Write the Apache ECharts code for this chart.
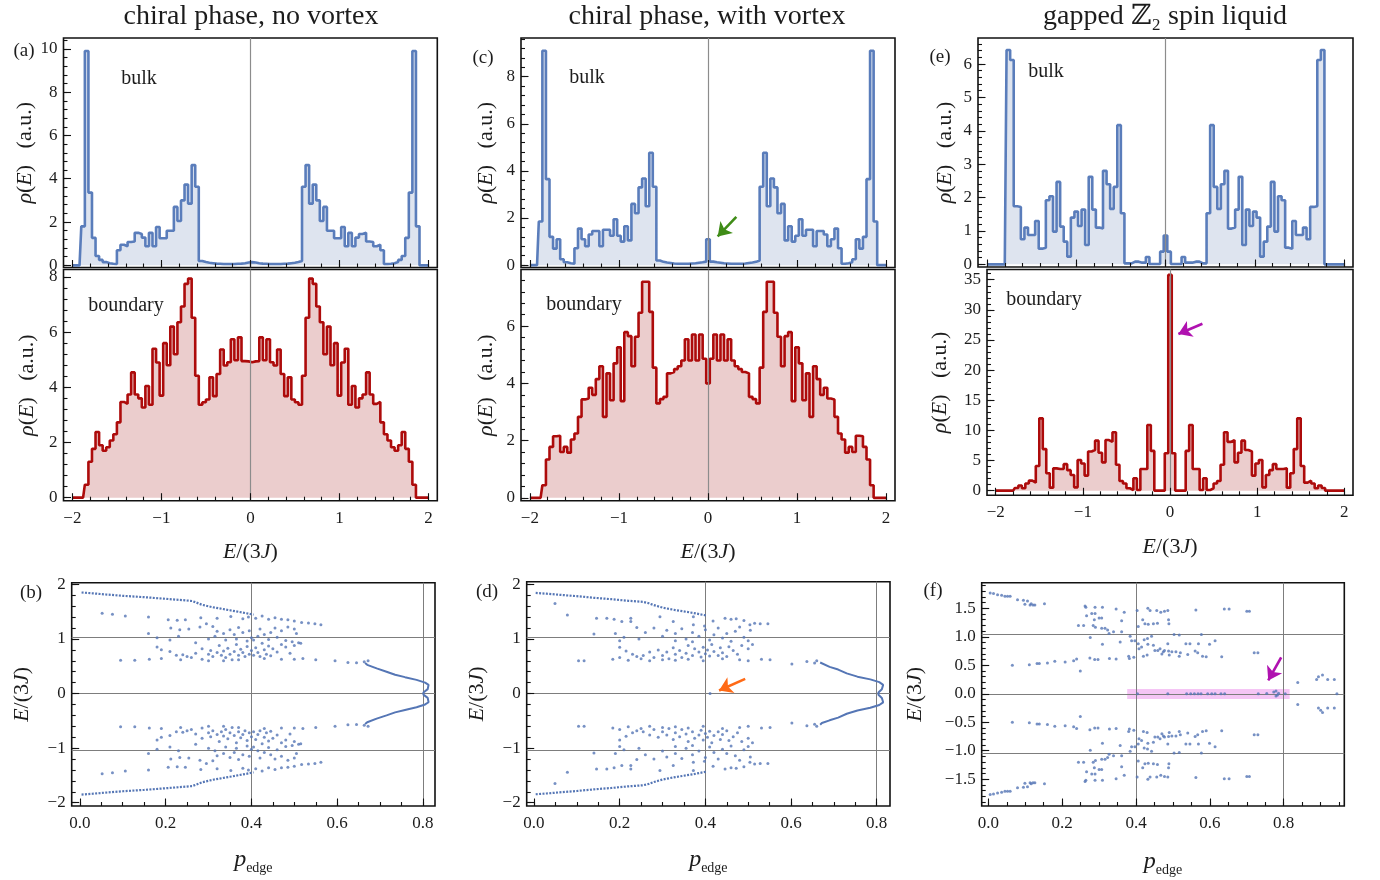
<!DOCTYPE html>
<html>
<head>
<meta charset="utf-8">
<script src="https://cdn.jsdelivr.net/npm/echarts@6/dist/echarts.min.js"></script>
<style>
html,body{margin:0;padding:0;background:#fff}
#chart{width:1380px;height:880px}
</style>
</head>
<body>
<div id="chart"></div>
<script>
// ---------------- histogram data: density of states rho(E), bins of width 0.04 centred from -2 to 2 ----------------
const binStart = -2.0, binWidth = 0.04;

const bulkNoVortex = [0,0,0,1.8,9.9,3.36,1.27,0.43,0.25,0.15,0.1,0.07,0.06,0.7,0.95,0.88,1.08,1.1,1.5,1.45,1.28,0.88,1.5,0.88,1.77,1.25,1.25,1.6,1.6,2.7,2.05,3.0,3.73,2.85,4.63,3.63,0.2,0.15,0.12,0.1,0.08,0.07,0.06,0.06,0.06,0.06,0.07,0.08,0.1,0.13,
  0.15,
  0.13,0.1,0.08,0.07,0.06,0.06,0.06,0.06,0.07,0.08,0.1,0.12,0.15,0.2,3.63,4.63,2.85,3.73,3.0,2.05,2.7,1.6,1.6,1.25,1.25,1.77,0.88,1.5,0.88,1.28,1.45,1.5,1.1,1.08,0.88,0.95,0.7,0.06,0.07,0.1,0.15,0.25,0.43,1.27,3.36,9.9,1.8,0,0,0];

const edgeNoVortex = [0,0,0,0,0.47,1.3,1.77,2.38,1.9,1.7,1.83,2.07,2.3,2.73,3.47,3.4,3.74,4.54,3.74,3.6,3.27,4.05,3.37,5.4,4.9,3.7,5.6,4.8,6.2,5.2,6.36,6.93,7.75,7.94,6.52,4.42,3.37,3.46,3.56,4.36,3.68,4.48,5.37,4.79,4.91,5.74,4.98,5.81,4.95,4.94,
  4.91,
  4.94,4.95,5.81,4.98,5.74,4.91,4.79,5.37,4.48,3.68,4.36,3.56,3.46,3.37,4.42,6.52,7.94,7.75,6.93,6.36,5.2,6.2,4.8,5.6,3.7,4.9,5.4,3.37,4.05,3.27,3.6,3.74,4.54,3.74,3.4,3.47,2.73,2.3,2.07,1.83,1.7,1.9,2.38,1.77,1.3,0.47,0,0,0,0];

const bulkVortex = [0,0,0,1.85,9.1,3.65,1.2,0.7,1.1,0.25,0.12,0.08,0.06,0.72,1.55,1.1,0.8,1.3,1.45,1.45,0.8,1.5,1.5,1.25,1.95,1.25,1.0,1.65,1.05,2.6,2.2,3.3,3.68,2.5,4.77,3.33,0.2,0.14,0.11,0.09,0.07,0.06,0.06,0.06,0.06,0.07,0.08,0.1,0.12,0.15,
  1.1,
  0.15,0.12,0.1,0.08,0.07,0.06,0.06,0.06,0.06,0.07,0.09,0.11,0.14,0.2,3.33,4.77,2.5,3.68,3.3,2.2,2.6,1.05,1.65,1.0,1.25,1.95,1.25,1.5,1.5,0.8,1.45,1.45,1.3,0.8,1.1,1.55,0.72,0.06,0.08,0.12,0.25,1.1,0.7,1.2,3.65,9.1,1.85,0,0,0];

const edgeVortex = [0,0,0,0,0.44,1.34,1.78,2.15,2.17,1.6,1.78,1.58,2.04,2.25,2.83,3.44,3.47,3.85,3.6,4.15,4.6,2.83,4.35,3.41,4.7,5.26,3.38,5.79,5.65,4.6,5.63,6.47,7.55,7.55,6.5,4.55,3.3,3.45,3.53,4.35,4.4,4.5,4.6,4.8,5.54,4.8,5.71,4.8,5.71,4.86,
  4.0,
  4.86,5.71,4.8,5.71,4.8,5.54,4.8,4.6,4.5,4.4,4.35,3.53,3.45,3.3,4.55,6.5,7.55,7.55,6.47,5.63,4.6,5.65,5.79,3.38,5.26,4.7,3.41,4.35,2.83,4.6,4.15,3.6,3.85,3.47,3.44,2.83,2.25,2.04,1.58,1.78,1.6,2.17,2.15,1.78,1.34,0.44,0,0,0,0];

const bulkZ2 = [0,0,0,0,0,0,6.42,6.12,1.74,1.72,0.75,1.1,0.88,0.88,1.3,0.47,0.5,1.92,2.04,0.98,2.47,1.13,0.68,0.23,1.4,1.58,1.15,1.64,0.58,2.62,1.64,1.1,1.07,2.8,2.4,1.66,2.32,4.17,1.53,0.03,0.03,0.08,0.08,0.05,0.05,0.22,0.01,0.01,0.01,0.38,
  0.86,
  0.38,0.01,0.01,0.01,0.22,0.05,0.05,0.08,0.08,0.03,0.03,1.53,4.17,2.32,1.66,2.4,2.8,1.07,1.1,1.64,2.62,0.58,1.64,1.15,1.58,1.4,0.23,0.68,1.13,2.47,0.98,2.04,1.92,0.5,0.47,1.3,0.88,0.88,1.1,0.75,1.72,1.74,6.12,6.42,0,0,0,0,0,0];

const edgeZ2 = [0,0,0,0,0,0,0.45,0.85,0.4,1.2,1.66,1.33,4.1,12.0,6.9,2.9,0.5,3.7,3.6,3.6,4.4,3.4,2.6,0.55,5.1,4.5,2.5,6.5,6.75,8.3,6.3,4.7,8.4,8.1,9.7,4.3,1.6,1.2,0.4,0.1,2.05,0.1,3.6,3.6,10.9,6.6,0,0,0,6.2,
  35.8,
  6.2,0,0,0,6.6,10.9,3.6,3.6,0.1,2.05,0.1,0.4,1.2,1.6,4.3,9.7,8.1,8.4,4.7,6.3,8.3,6.75,6.5,2.5,4.5,5.1,0.55,2.6,3.4,4.4,3.6,3.6,3.7,0.5,2.9,6.9,12.0,4.1,1.33,1.66,1.2,0.4,0.85,0.45,0,0,0,0,0,0];

// ---------------- eigenstates: [p_edge, E/(3J)] ----------------
const bEdgeUpper = [[0.004,1.85],[0.03,1.835],[0.06,1.815],[0.1,1.79],[0.15,1.765],[0.2,1.735],[0.24,1.71],[0.262,1.695],[0.272,1.665],[0.285,1.625],[0.31,1.58],[0.35,1.525],[0.385,1.475],[0.405,1.445]];
const bEdgeLower = [[0.004,-1.85],[0.03,-1.835],[0.06,-1.815],[0.1,-1.79],[0.15,-1.765],[0.2,-1.735],[0.24,-1.71],[0.262,-1.695],[0.272,-1.665],[0.285,-1.625],[0.31,-1.58],[0.35,-1.525],[0.385,-1.475],[0.405,-1.445]];
const bEdgeMode = [[0.665,0.56],[0.67,0.525],[0.692,0.46],[0.715,0.4],[0.735,0.345],[0.758,0.3],[0.785,0.25],[0.805,0.2],[0.813,0.16],[0.811,0.08],[0.801,0.02],[0.801,-0.02],[0.811,-0.08],[0.813,-0.16],[0.805,-0.2],[0.785,-0.25],[0.758,-0.3],[0.735,-0.345],[0.715,-0.4],[0.692,-0.46],[0.67,-0.525],[0.665,-0.56]];
const bUpper = [[0.052,1.47],[0.076,1.45],[0.106,1.42],[0.16,1.4],[0.206,1.35],[0.227,1.34],[0.246,1.35],[0.282,1.39],[0.32,1.38],[0.352,1.41],[0.38,1.37],[0.393,1.4],[0.41,1.38],[0.425,1.42],[0.44,1.36],[0.455,1.39],[0.47,1.36],[0.485,1.35],[0.5,1.33],[0.517,1.3],[0.533,1.29],[0.548,1.28],[0.562,1.26],
  [0.16,1.1],[0.18,1.02],[0.212,1.2],[0.233,1.17],[0.254,1.18],[0.23,1.05],[0.21,0.98],[0.28,1.22],[0.295,1.28],[0.31,1.23],[0.32,1.14],[0.315,1.05],[0.335,1.1],[0.35,1.17],[0.36,1.08],[0.37,1.21],[0.38,1.12],[0.395,1.15],[0.4,1.02],[0.405,0.98],[0.415,1.05],[0.42,1.18],[0.43,1.08],[0.44,0.99],[0.445,1.12],[0.455,1.2],[0.46,1.03],[0.47,1.15],[0.48,0.97],[0.485,1.22],[0.5,1.18],[0.505,1.1],[0.495,0.95],[0.51,0.93],[0.39,0.96],[0.365,1.0],[0.34,0.98],[0.3,1.0],[0.27,0.93],
  [0.18,0.85],[0.19,0.8],[0.21,0.77],[0.225,0.7],[0.24,0.71],[0.25,0.68],[0.27,0.74],[0.285,0.82],[0.3,0.72],[0.305,0.79],[0.31,0.68],[0.32,0.75],[0.325,0.88],[0.33,0.7],[0.335,0.78],[0.34,0.66],[0.345,0.83],[0.35,0.72],[0.355,0.62],[0.36,0.77],[0.365,0.9],[0.37,0.7],[0.375,0.81],[0.38,0.75],[0.385,0.68],[0.39,0.86],[0.395,0.72],[0.4,0.79],[0.405,0.7],[0.41,0.84],[0.415,0.75],[0.42,0.68],[0.425,0.92],[0.43,0.8],[0.435,0.72],[0.44,0.87],[0.445,0.69],[0.45,0.82],[0.46,0.76],[0.47,0.9],[0.48,0.85],[0.49,0.74],[0.5,0.88],[0.515,0.92],
  [0.095,0.61],[0.128,0.61],[0.162,0.63],[0.19,0.64],[0.235,0.62],[0.26,0.66],[0.285,0.63],[0.3,0.6],[0.335,0.6],[0.37,0.62],[0.43,0.64],[0.47,0.63],[0.5,0.63],[0.52,0.64],[0.55,0.62],[0.595,0.6],[0.625,0.57],[0.645,0.565],[0.663,0.58],[0.672,0.6]];
const bLower = [[0.052,-1.47],[0.076,-1.45],[0.106,-1.42],[0.16,-1.4],[0.206,-1.35],[0.227,-1.34],[0.246,-1.35],[0.282,-1.39],[0.32,-1.38],[0.352,-1.41],[0.38,-1.37],[0.393,-1.4],[0.41,-1.38],[0.425,-1.42],[0.44,-1.36],[0.455,-1.39],[0.47,-1.36],[0.485,-1.35],[0.5,-1.33],[0.517,-1.3],[0.533,-1.29],[0.548,-1.28],[0.562,-1.26],
  [0.16,-1.1],[0.18,-1.02],[0.212,-1.2],[0.233,-1.17],[0.254,-1.18],[0.23,-1.05],[0.21,-0.98],[0.28,-1.22],[0.295,-1.28],[0.31,-1.23],[0.32,-1.14],[0.315,-1.05],[0.335,-1.1],[0.35,-1.17],[0.36,-1.08],[0.37,-1.21],[0.38,-1.12],[0.395,-1.15],[0.4,-1.02],[0.405,-0.98],[0.415,-1.05],[0.42,-1.18],[0.43,-1.08],[0.44,-0.99],[0.445,-1.12],[0.455,-1.2],[0.46,-1.03],[0.47,-1.15],[0.48,-0.97],[0.485,-1.22],[0.5,-1.18],[0.505,-1.1],[0.495,-0.95],[0.51,-0.93],[0.39,-0.96],[0.365,-1.0],[0.34,-0.98],[0.3,-1.0],[0.27,-0.93],
  [0.18,-0.85],[0.19,-0.8],[0.21,-0.77],[0.225,-0.7],[0.24,-0.71],[0.25,-0.68],[0.27,-0.74],[0.285,-0.82],[0.3,-0.72],[0.305,-0.79],[0.31,-0.68],[0.32,-0.75],[0.325,-0.88],[0.33,-0.7],[0.335,-0.78],[0.34,-0.66],[0.345,-0.83],[0.35,-0.72],[0.355,-0.62],[0.36,-0.77],[0.365,-0.9],[0.37,-0.7],[0.375,-0.81],[0.38,-0.75],[0.385,-0.68],[0.39,-0.86],[0.395,-0.72],[0.4,-0.79],[0.405,-0.7],[0.41,-0.84],[0.415,-0.75],[0.42,-0.68],[0.425,-0.92],[0.43,-0.8],[0.435,-0.72],[0.44,-0.87],[0.445,-0.69],[0.45,-0.82],[0.46,-0.76],[0.47,-0.9],[0.48,-0.85],[0.49,-0.74],[0.5,-0.88],[0.515,-0.92],
  [0.095,-0.61],[0.128,-0.61],[0.162,-0.63],[0.19,-0.64],[0.235,-0.62],[0.26,-0.66],[0.285,-0.63],[0.3,-0.6],[0.335,-0.6],[0.37,-0.62],[0.43,-0.64],[0.47,-0.63],[0.5,-0.63],[0.52,-0.64],[0.55,-0.62],[0.595,-0.6],[0.625,-0.57],[0.645,-0.565],[0.663,-0.58],[0.672,-0.6]];

const dEdgeUpper = [[0.004,1.845],[0.03,1.83],[0.06,1.81],[0.1,1.785],[0.14,1.755],[0.18,1.73],[0.22,1.7],[0.255,1.68],[0.268,1.655],[0.28,1.62],[0.3,1.575],[0.33,1.53],[0.37,1.48],[0.403,1.43]];
const dEdgeLower = [[0.004,-1.845],[0.03,-1.83],[0.06,-1.81],[0.1,-1.785],[0.14,-1.755],[0.18,-1.73],[0.22,-1.7],[0.255,-1.68],[0.268,-1.655],[0.28,-1.62],[0.3,-1.575],[0.33,-1.53],[0.37,-1.48],[0.403,-1.43]];
const dEdgeMode = [[0.668,0.57],[0.672,0.54],[0.69,0.49],[0.71,0.44],[0.73,0.37],[0.755,0.31],[0.785,0.26],[0.806,0.21],[0.815,0.16],[0.812,0.08],[0.804,0.02],[0.804,-0.02],[0.812,-0.08],[0.815,-0.16],[0.806,-0.21],[0.785,-0.26],[0.755,-0.31],[0.73,-0.37],[0.71,-0.44],[0.69,-0.49],[0.672,-0.54],[0.668,-0.57]];
const dUpper = [[0.049,1.65],[0.078,1.44],[0.146,1.38],[0.17,1.38],[0.187,1.36],[0.205,1.32],[0.226,1.38],[0.24,1.21],[0.226,1.32],[0.294,1.41],[0.325,1.32],[0.372,1.26],[0.372,1.41],[0.398,1.24],[0.418,1.33],[0.446,1.38],[0.46,1.36],[0.472,1.37],[0.49,1.34],[0.504,1.26],[0.515,1.29],[0.528,1.28],[0.546,1.28],
  [0.14,1.09],[0.19,1.1],[0.2,0.97],[0.21,1.03],[0.245,1.0],[0.26,1.12],[0.28,1.2],[0.3,1.05],[0.31,1.16],[0.33,1.1],[0.345,1.19],[0.355,1.0],[0.37,1.12],[0.385,1.05],[0.4,1.17],[0.41,0.98],[0.42,1.08],[0.43,1.2],[0.44,1.02],[0.45,1.1],[0.46,0.96],[0.47,1.14],[0.48,1.22],[0.49,1.03],[0.5,0.97],[0.505,1.16],[0.37,0.95],[0.33,0.97],
  [0.2,0.85],[0.215,0.78],[0.23,0.72],[0.24,0.68],[0.255,0.7],[0.27,0.76],[0.28,0.66],[0.29,0.8],[0.3,0.7],[0.31,0.76],[0.315,0.64],[0.325,0.84],[0.33,0.72],[0.34,0.79],[0.345,0.66],[0.355,0.74],[0.36,0.88],[0.37,0.7],[0.375,0.82],[0.385,0.76],[0.39,0.67],[0.395,0.85],[0.4,0.73],[0.405,0.8],[0.41,0.69],[0.415,0.9],[0.42,0.77],[0.43,0.7],[0.435,0.84],[0.44,0.75],[0.45,0.68],[0.455,0.86],[0.465,0.79],[0.475,0.72],[0.485,0.88],[0.5,0.82],[0.51,0.9],
  [0.104,0.6],[0.117,0.6],[0.184,0.63],[0.2,0.66],[0.22,0.61],[0.25,0.64],[0.27,0.6],[0.3,0.62],[0.33,0.61],[0.36,0.63],[0.395,0.6],[0.44,0.64],[0.48,0.62],[0.5,0.6],[0.531,0.63],[0.551,0.62],[0.602,0.54],[0.637,0.59],[0.655,0.56],[0.66,0.6]];
const dLower = [[0.049,-1.65],[0.078,-1.44],[0.146,-1.38],[0.17,-1.38],[0.187,-1.36],[0.205,-1.32],[0.226,-1.38],[0.24,-1.21],[0.226,-1.32],[0.294,-1.41],[0.325,-1.32],[0.372,-1.26],[0.372,-1.41],[0.398,-1.24],[0.418,-1.33],[0.446,-1.38],[0.46,-1.36],[0.472,-1.37],[0.49,-1.34],[0.504,-1.26],[0.515,-1.29],[0.528,-1.28],[0.546,-1.28],
  [0.14,-1.09],[0.19,-1.1],[0.2,-0.97],[0.21,-1.03],[0.245,-1.0],[0.26,-1.12],[0.28,-1.2],[0.3,-1.05],[0.31,-1.16],[0.33,-1.1],[0.345,-1.19],[0.355,-1.0],[0.37,-1.12],[0.385,-1.05],[0.4,-1.17],[0.41,-0.98],[0.42,-1.08],[0.43,-1.2],[0.44,-1.02],[0.45,-1.1],[0.46,-0.96],[0.47,-1.14],[0.48,-1.22],[0.49,-1.03],[0.5,-0.97],[0.505,-1.16],[0.37,-0.95],[0.33,-0.97],
  [0.2,-0.85],[0.215,-0.78],[0.23,-0.72],[0.24,-0.68],[0.255,-0.7],[0.27,-0.76],[0.28,-0.66],[0.29,-0.8],[0.3,-0.7],[0.31,-0.76],[0.315,-0.64],[0.325,-0.84],[0.33,-0.72],[0.34,-0.79],[0.345,-0.66],[0.355,-0.74],[0.36,-0.88],[0.37,-0.7],[0.375,-0.82],[0.385,-0.76],[0.39,-0.67],[0.395,-0.85],[0.4,-0.73],[0.405,-0.8],[0.41,-0.69],[0.415,-0.9],[0.42,-0.77],[0.43,-0.7],[0.435,-0.84],[0.44,-0.75],[0.45,-0.68],[0.455,-0.86],[0.465,-0.79],[0.475,-0.72],[0.485,-0.88],[0.5,-0.82],[0.51,-0.9],
  [0.104,-0.6],[0.117,-0.6],[0.184,-0.63],[0.2,-0.66],[0.22,-0.61],[0.25,-0.64],[0.27,-0.6],[0.3,-0.62],[0.33,-0.61],[0.36,-0.63],[0.395,-0.6],[0.44,-0.64],[0.48,-0.62],[0.5,-0.6],[0.531,-0.63],[0.551,-0.62],[0.602,-0.54],[0.637,-0.59],[0.655,-0.56],[0.66,-0.6]];
const dVortexMode = [[0.411,0]];

const fUpper = [[0.005,1.77],[0.014,1.76],[0.025,1.74],[0.036,1.73],[0.045,1.71],[0.052,1.71],[0.059,1.71],[0.079,1.65],[0.095,1.64],[0.106,1.63],[0.099,1.57],[0.116,1.58],[0.126,1.56],[0.152,1.58],[0.121,1.56],[0.113,1.56],
  [0.262,1.54],[0.264,1.52],[0.289,1.52],[0.309,1.52],[0.346,1.49],[0.368,1.43],[0.403,1.46],[0.432,1.5],[0.438,1.46],[0.456,1.46],[0.467,1.43],[0.477,1.45],[0.486,1.46],[0.562,1.47],[0.639,1.49],[0.652,1.49],[0.7,1.45],[0.707,1.45],
  [0.244,1.2],[0.258,1.2],[0.266,1.37],[0.28,1.41],[0.289,1.41],[0.287,1.3],[0.3,1.33],[0.307,1.33],[0.284,1.2],[0.29,1.17],[0.307,1.15],[0.316,1.15],[0.323,1.12],[0.327,1.06],[0.339,1.09],[0.361,1.28],[0.361,1.09],[0.406,1.18],[0.418,1.3],[0.424,1.23],[0.433,1.22],[0.447,1.23],[0.458,1.24],[0.488,1.3],[0.489,1.23],
  [0.276,0.99],[0.309,0.87],[0.357,0.91],[0.384,1.01],[0.388,0.93],[0.397,0.93],[0.406,0.88],[0.408,0.79],[0.415,0.82],[0.422,0.95],[0.431,0.97],[0.432,0.87],[0.442,1.01],[0.447,0.85],[0.451,0.76],[0.459,0.76],[0.465,0.79],[0.474,0.74],[0.477,0.76],[0.486,0.88],[0.488,0.75],[0.497,0.74],[0.503,1.04],[0.508,0.74],[0.517,1.03],[0.517,0.66],[0.535,0.88],[0.546,0.88],[0.56,0.75],[0.567,0.72],[0.569,0.88],[0.577,1.04],[0.599,0.87],[0.614,0.93],[0.632,0.65],[0.72,0.72],[0.73,0.72],
  [0.38,0.66],[0.382,0.62],[0.394,0.64],[0.42,0.66],[0.43,0.68],[0.47,0.7],[0.49,0.68],[0.52,0.72],[0.54,0.69],[0.58,0.66],[0.59,0.65],
  [0.065,0.5],[0.111,0.51],[0.132,0.53],[0.138,0.53],[0.16,0.54],[0.18,0.57],[0.208,0.56],[0.231,0.58],[0.239,0.61],[0.275,0.63],[0.288,0.6],[0.297,0.6],[0.328,0.62],[0.346,0.61],[0.249,0.4]];
const fLower = [[0.005,-1.77],[0.014,-1.76],[0.025,-1.74],[0.036,-1.73],[0.045,-1.71],[0.052,-1.71],[0.059,-1.71],[0.079,-1.65],[0.095,-1.64],[0.106,-1.63],[0.099,-1.57],[0.116,-1.58],[0.126,-1.56],[0.152,-1.58],[0.121,-1.56],[0.113,-1.56],
  [0.262,-1.54],[0.264,-1.52],[0.289,-1.52],[0.309,-1.52],[0.346,-1.49],[0.368,-1.43],[0.403,-1.46],[0.432,-1.5],[0.438,-1.46],[0.456,-1.46],[0.467,-1.43],[0.477,-1.45],[0.486,-1.46],[0.562,-1.47],[0.639,-1.49],[0.652,-1.49],[0.7,-1.45],[0.707,-1.45],
  [0.244,-1.2],[0.258,-1.2],[0.266,-1.37],[0.28,-1.41],[0.289,-1.41],[0.287,-1.3],[0.3,-1.33],[0.307,-1.33],[0.284,-1.2],[0.29,-1.17],[0.307,-1.15],[0.316,-1.15],[0.323,-1.12],[0.327,-1.06],[0.339,-1.09],[0.361,-1.28],[0.361,-1.09],[0.406,-1.18],[0.418,-1.3],[0.424,-1.23],[0.433,-1.22],[0.447,-1.23],[0.458,-1.24],[0.488,-1.3],[0.489,-1.23],
  [0.276,-0.99],[0.309,-0.87],[0.357,-0.91],[0.384,-1.01],[0.388,-0.93],[0.397,-0.93],[0.406,-0.88],[0.408,-0.79],[0.415,-0.82],[0.422,-0.95],[0.431,-0.97],[0.432,-0.87],[0.442,-1.01],[0.447,-0.85],[0.451,-0.76],[0.459,-0.76],[0.465,-0.79],[0.474,-0.74],[0.477,-0.76],[0.486,-0.88],[0.488,-0.75],[0.497,-0.74],[0.503,-1.04],[0.508,-0.74],[0.517,-1.03],[0.517,-0.66],[0.535,-0.88],[0.546,-0.88],[0.56,-0.75],[0.567,-0.72],[0.569,-0.88],[0.577,-1.04],[0.599,-0.87],[0.614,-0.93],[0.632,-0.65],[0.72,-0.72],[0.73,-0.72],
  [0.38,-0.66],[0.382,-0.62],[0.394,-0.64],[0.42,-0.66],[0.43,-0.68],[0.47,-0.7],[0.49,-0.68],[0.52,-0.72],[0.54,-0.69],[0.58,-0.66],[0.59,-0.65],
  [0.065,-0.5],[0.111,-0.51],[0.132,-0.53],[0.138,-0.53],[0.16,-0.54],[0.18,-0.57],[0.208,-0.56],[0.231,-0.58],[0.239,-0.61],[0.275,-0.63],[0.288,-0.6],[0.297,-0.6],[0.328,-0.62],[0.346,-0.61],[0.249,-0.4]];
const fZeroModes = [[0.404,0],[0.486,0],[0.537,0],[0.548,0],[0.558,0],[0.568,0],[0.576,0],[0.594,0],[0.605,0],[0.614,0],[0.63,0],[0.64,0],[0.731,0],[0.754,0.005],[0.773,0.03],[0.779,0.05],[0.783,-0.02],[0.779,-0.04],[0.786,0.01],[0.804,0],
  [0.838,0.2],[0.889,0.25],[0.894,0.3],[0.905,0.33],[0.919,0.25],[0.937,0.25],[0.944,0],[0.838,-0.19],[0.894,-0.25],[0.9,-0.29],[0.905,-0.33],[0.919,-0.25],[0.937,-0.25]];

// ---------------- tick labels ----------------
const energyTicks = [-2,-1,0,1,2];
const pTicks = [0,0.2,0.4,0.6,0.8];
const rhoTicks2 = [0,2,4,6,8,10];
const rhoTicks1 = [0,1,2,3,4,5,6];
const rhoTicks5 = [0,5,10,15,20,25,30,35];
const energyTicksHalf = [-1.5,-1,-0.5,0,0.5,1,1.5];

// ---------------- styling ----------------
const FONT = "'Liberation Serif','DejaVu Serif',serif";
const INK = '#1c1c1c';
const BLUE = '#5a7dbb', BLUE_FILL = '#dee4ef';
const RED = '#ad0b0b', RED_FILL = '#ebcdcd';
const DOT = '#5576b5';
const GUIDE = '#7d7d7d';

function steps(a, b, s) { const r = []; for (let v = a; v <= b + 1e-9; v += s) r.push(+v.toFixed(4)); return r; }
function fmt(v, dec) { const s = Math.abs(v).toFixed(dec); return (v < -1e-9 ? '\u2212' : '') + s; }
const toBins = vals => vals.map((v, i) => [+(binStart + i * binWidth).toFixed(3), v]);

const RICH = {
  i: { fontFamily: FONT, fontStyle: 'italic', fontSize: 22, color: INK },
  p: { fontFamily: FONT, fontStyle: 'italic', fontSize: 24, color: INK, verticalAlign: 'middle', lineHeight: 30 },
  s: { fontFamily: FONT, fontSize: 14, color: INK, verticalAlign: 'bottom', lineHeight: 30 }
};

const option = { animation: false, backgroundColor: '#ffffff', grid: [], xAxis: [], yAxis: [], series: [], graphic: { elements: [] } };

function axis(dim, gi, c, minor) {
  const isX = dim === 'x';
  const a = {
    type: 'value', gridIndex: gi, min: c.min, max: c.max, position: isX ? 'bottom' : 'left', offset: 0, z: 10, silent: true,
    axisLine: { show: false, onZero: false }, splitLine: { show: false },
    axisTick: { show: true, inside: true, length: minor ? 4 : 7.5, customValues: minor ? c.minor : c.major, lineStyle: { color: '#111', width: 1.1 } },
    axisLabel: { show: !minor && !!c.labels, customValues: c.major, margin: isX ? 9 : 6, formatter: v => fmt(v, c.dec || 0), fontFamily: FONT, fontSize: 17, color: INK }
  };
  if (!minor && c.name) {
    a.name = c.name; a.nameLocation = 'middle'; a.nameGap = c.nameGap; a.nameRotate = isX ? 0 : 90;
    a.nameTextStyle = { fontFamily: FONT, fontSize: 22, color: INK, rich: RICH };
  }
  return a;
}

function panel(box, xc, yc) {
  const gi = option.grid.length;
  option.grid.push(Object.assign({ show: true, borderColor: '#111', borderWidth: 1.6, backgroundColor: 'rgba(0,0,0,0)' }, box));
  const xi = option.xAxis.length, yi = option.yAxis.length;
  option.xAxis.push(axis('x', gi, xc, false), axis('x', gi, xc, true));
  option.yAxis.push(axis('y', gi, yc, false), axis('y', gi, yc, true));
  return { xi, yi };
}

function hist(ax, vals, color, fill) {
  option.series.push({
    type: 'line', xAxisIndex: ax.xi, yAxisIndex: ax.yi, data: toBins(vals), step: 'middle', symbol: 'none', silent: true, z: 3,
    lineStyle: { color, width: 2.6 }, areaStyle: { color: fill, opacity: 1 },
    markLine: { silent: true, symbol: ['none', 'none'], label: { show: false }, lineStyle: { color: '#8c8c8c', width: 1.2, type: 'solid' }, data: [{ xAxis: 0 }] }
  });
}

function curve(ax, pts, dashed, guides) {
  const s = { type: 'line', xAxisIndex: ax.xi, yAxisIndex: ax.yi, data: pts, symbol: 'none', silent: true, z: 3,
    lineStyle: { color: DOT, width: dashed ? 2.2 : 2, type: dashed ? [2, 1.4] : 'solid' } };
  if (guides) s.markLine = { silent: true, z: 1, symbol: ['none', 'none'], label: { show: false }, lineStyle: { color: GUIDE, width: 1, type: 'solid' }, data: guides };
  option.series.push(s);
}

function dots(ax, pts, extra) {
  option.series.push(Object.assign({ type: 'scatter', xAxisIndex: ax.xi, yAxisIndex: ax.yi, data: pts, symbolSize: 3, silent: true, z: 4, itemStyle: { color: DOT } }, extra || {}));
}

function arrow(ax, from, to, color) {
  option.series.push({ type: 'lines', coordinateSystem: 'cartesian2d', xAxisIndex: ax.xi, yAxisIndex: ax.yi, silent: true, z: 8,
    symbol: ['none', 'arrow'], symbolSize: 13, lineStyle: { color, width: 2.6, opacity: 1 }, data: [{ coords: [from, to] }] });
}

function text(str, x, y, size, extra) {
  option.graphic.elements.push({ type: 'text', x, y, silent: true, z: 20,
    style: Object.assign({ text: str, font: size + 'px ' + FONT, fill: INK, textAlign: 'center', align: 'center', textVerticalAlign: 'middle', verticalAlign: 'middle' }, extra || {}) });
}

// ---------------- histogram panels ----------------
const eName = '{i|E}/(3{i|J})';
const rhoName = '{i|\u03c1}({i|E})   (a.u.)';
const histX = (labels) => ({ min: -2.1, max: 2.1, major: energyTicks, minor: steps(-2, 2, 0.2), labels, dec: 0, name: labels ? eName : '', nameGap: 41 });

const aBulk = panel({ left: 63.5, top: 38, width: 373.8, height: 229.5 }, histX(false),
  { min: -0.1, max: 10.5, major: rhoTicks2, minor: steps(0, 10.4, 0.4), labels: true, name: rhoName, nameGap: 25 });
const aEdge = panel({ left: 63.5, top: 269.5, width: 373.8, height: 231.2 }, histX(true),
  { min: -0.11, max: 8.27, major: rhoTicks2.slice(0, 5), minor: steps(0, 8.0, 0.4), labels: true, name: rhoName, nameGap: 25 });
const cBulk = panel({ left: 521, top: 38, width: 374, height: 229.5 }, histX(false),
  { min: -0.1, max: 9.64, major: rhoTicks2.slice(0, 5), minor: steps(0, 9.6, 0.4), labels: true, name: rhoName, nameGap: 24 });
const cEdge = panel({ left: 521, top: 269.5, width: 374, height: 231.2 }, histX(true),
  { min: -0.1, max: 7.98, major: rhoTicks2.slice(0, 4), minor: steps(0, 7.6, 0.4), labels: true, name: rhoName, nameGap: 24 });
const eBulk = panel({ left: 978, top: 38, width: 375, height: 229 }, histX(false),
  { min: -0.08, max: 6.78, major: rhoTicks1, minor: steps(0, 6.6, 0.2), labels: true, name: rhoName, nameGap: 22 });
const eEdge = panel({ left: 987, top: 269.5, width: 366, height: 225.8 }, histX(true),
  { min: -0.77, max: 36.7, major: rhoTicks5, minor: steps(0, 36, 1), labels: true, name: rhoName, nameGap: 36 });

hist(aBulk, bulkNoVortex, BLUE, BLUE_FILL);
hist(aEdge, edgeNoVortex, RED, RED_FILL);
hist(cBulk, bulkVortex, BLUE, BLUE_FILL);
hist(cEdge, edgeVortex, RED, RED_FILL);
hist(eBulk, bulkZ2, BLUE, BLUE_FILL);
hist(eEdge, edgeZ2, RED, RED_FILL);

// ---------------- edge-weight panels ----------------
const pName = '{p|p}{s|edge}';
const eyName = '{i|E}/(3{i|J})';
const bPanel = panel({ left: 71.7, top: 582.7, width: 363.3, height: 223.3 },
  { min: -0.019, max: 0.828, major: pTicks, minor: steps(0, 0.8, 0.05), labels: true, dec: 1, name: pName, nameGap: 39 },
  { min: -2.06, max: 2.03, major: energyTicks, minor: steps(-2, 2, 0.2), labels: true, dec: 0, name: eyName, nameGap: 38 });
const dPanel = panel({ left: 526.7, top: 581.7, width: 363.3, height: 224.3 },
  { min: -0.017, max: 0.831, major: pTicks, minor: steps(0, 0.8, 0.05), labels: true, dec: 1, name: pName, nameGap: 39 },
  { min: -2.06, max: 2.05, major: energyTicks, minor: steps(-2, 2, 0.2), labels: true, dec: 0, name: eyName, nameGap: 38 });
const fPanel = panel({ left: 981.7, top: 582.7, width: 362.6, height: 223.3 },
  { min: -0.018, max: 0.964, major: pTicks, minor: steps(0, 0.95, 0.05), labels: true, dec: 1, name: pName, nameGap: 41 },
  { min: -1.97, max: 1.95, major: energyTicksHalf, minor: steps(-1.9, 1.9, 0.1), labels: true, dec: 1, name: eyName, nameGap: 55 });

const guideB = [{ xAxis: 0.4 }, { xAxis: 0.8 }, { yAxis: 0 }, { yAxis: 1.04 }, { yAxis: -1.04 }];
const guideF = [{ xAxis: 0.4 }, { xAxis: 0.8 }, { yAxis: 0 }, { yAxis: 1.05 }, { yAxis: -1.05 }];

curve(bPanel, bEdgeMode, false, guideB);
curve(bPanel, bEdgeUpper, true);
curve(bPanel, bEdgeLower, true);
dots(bPanel, bUpper);
dots(bPanel, bLower);

curve(dPanel, dEdgeMode, false, guideB);
curve(dPanel, dEdgeUpper, true);
curve(dPanel, dEdgeLower, true);
dots(dPanel, dUpper);
dots(dPanel, dLower);
dots(dPanel, dVortexMode);

dots(fPanel, fUpper, { markLine: { silent: true, z: 1, symbol: ['none', 'none'], label: { show: false }, lineStyle: { color: GUIDE, width: 1, type: 'solid' }, data: guideF } });
dots(fPanel, fLower);
dots(fPanel, fZeroModes, { markArea: { silent: true, z: 1, itemStyle: { color: 'rgba(236,150,236,0.55)', borderWidth: 0 }, label: { show: false },
  data: [[{ coord: [0.376, 0.085] }, { coord: [0.816, -0.09] }]] } });

// ---------------- annotation arrows ----------------
arrow(cBulk, [0.318, 2.05], [0.109, 1.22], '#3f8c17');
arrow(eEdge, [0.372, 27.7], [0.096, 26.0], '#b012b0');
arrow(dPanel, [0.493, 0.27], [0.432, 0.057], '#ff6a16');
arrow(fPanel, [0.793, 0.639], [0.758, 0.235], '#b012b0');

// ---------------- titles and panel labels ----------------
text('chiral phase, no vortex', 251, 17, 28);
text('chiral phase, with vortex', 707, 17, 28);
text('gapped \u2124\u2082 spin liquid', 1165, 17, 28);
text('(a)', 24, 51, 19);
text('(b)', 31, 593, 19);
text('(c)', 483, 58, 19);
text('(d)', 487, 592, 19);
text('(e)', 940, 57, 19);
text('(f)', 933, 591, 19);
text('bulk', 139, 79, 20);
text('bulk', 587, 78, 20);
text('bulk', 1046, 72, 20);
text('boundary', 126, 306, 20);
text('boundary', 584, 305, 20);
text('boundary', 1044, 300, 20);

const chart = echarts.init(document.getElementById('chart'), null, { renderer: 'canvas' });
chart.setOption(option);
</script>
</body>
</html>
